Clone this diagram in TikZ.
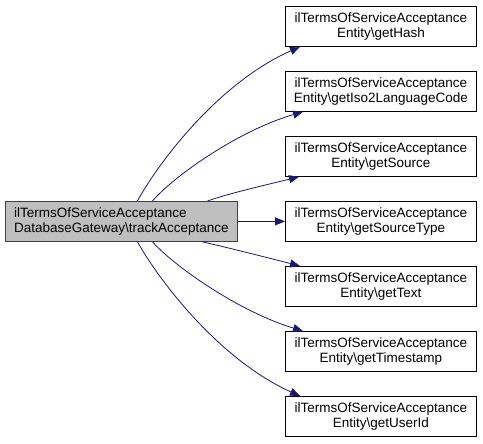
\documentclass[tikz,border=0pt]{standalone}
\usepackage{fontspec}
\setmainfont{Liberation Sans}
\usetikzlibrary{arrows.meta}
\tikzset{
    fnbox/.style={draw=black, line width=0.8pt, fill=white, align=center, inner sep=0pt,
        minimum width=191pt, minimum height=40pt, anchor=north west,
        font=\fontsize{13.5}{14.5}\selectfont},
    srcbox/.style={fnbox, align=left, fill=black!25, draw=black!75, minimum width=232pt},
    callarrow/.style={draw={rgb,255:red,25;green,25;blue,112}, line width=0.8pt,
        -{Triangle[length=10pt,width=8pt]}}
}
\begin{document}
\begin{tikzpicture}[x=1pt, y=-1pt]
    \useasboundingbox (0,0) rectangle (483,444);
    \node[srcbox] (track) at (5,201) {ilTermsOfServiceAcceptance\\DatabaseGateway\textbackslash trackAcceptance};
    \node[fnbox] (hash) at (285,6) {ilTermsOfServiceAcceptance\\Entity\textbackslash getHash};
    \node[fnbox] (lang) at (285,71) {ilTermsOfServiceAcceptance\\Entity\textbackslash getIso2LanguageCode};
    \node[fnbox] (source) at (285,136) {ilTermsOfServiceAcceptance\\Entity\textbackslash getSource};
    \node[fnbox] (stype) at (285,201) {ilTermsOfServiceAcceptance\\Entity\textbackslash getSourceType};
    \node[fnbox] (text) at (285,266) {ilTermsOfServiceAcceptance\\Entity\textbackslash getText};
    \node[fnbox] (stamp) at (285,331) {ilTermsOfServiceAcceptance\\Entity\textbackslash getTimestamp};
    \node[fnbox] (user) at (285,396) {ilTermsOfServiceAcceptance\\Entity\textbackslash getUserId};
    % calls going up
    \draw[callarrow] ([xshift=16pt]track.north) .. controls (160,160) and (220,82) .. ([xshift=15pt]hash.south west);
    \draw[callarrow] ([xshift=31pt]track.north) .. controls (175,175) and (240,130) .. ([xshift=18pt]lang.south west);
    \draw[callarrow] ([xshift=86pt]track.north) .. controls (230,193) and (270,184) .. ([xshift=14pt]source.south west);
    \draw[callarrow] (track.east) -- (stype.west);
    % calls going down
    \draw[callarrow] ([xshift=81pt]track.south) .. controls (225,247) and (265,257) .. ([xshift=15pt]text.north west);
    \draw[callarrow] ([xshift=31pt]track.south) .. controls (175,267) and (240,312) .. ([xshift=18pt]stamp.north west);
    \draw[callarrow] ([xshift=16pt]track.south) .. controls (160,282) and (220,360) .. ([xshift=15pt]user.north west);
\end{tikzpicture}
\end{document}
